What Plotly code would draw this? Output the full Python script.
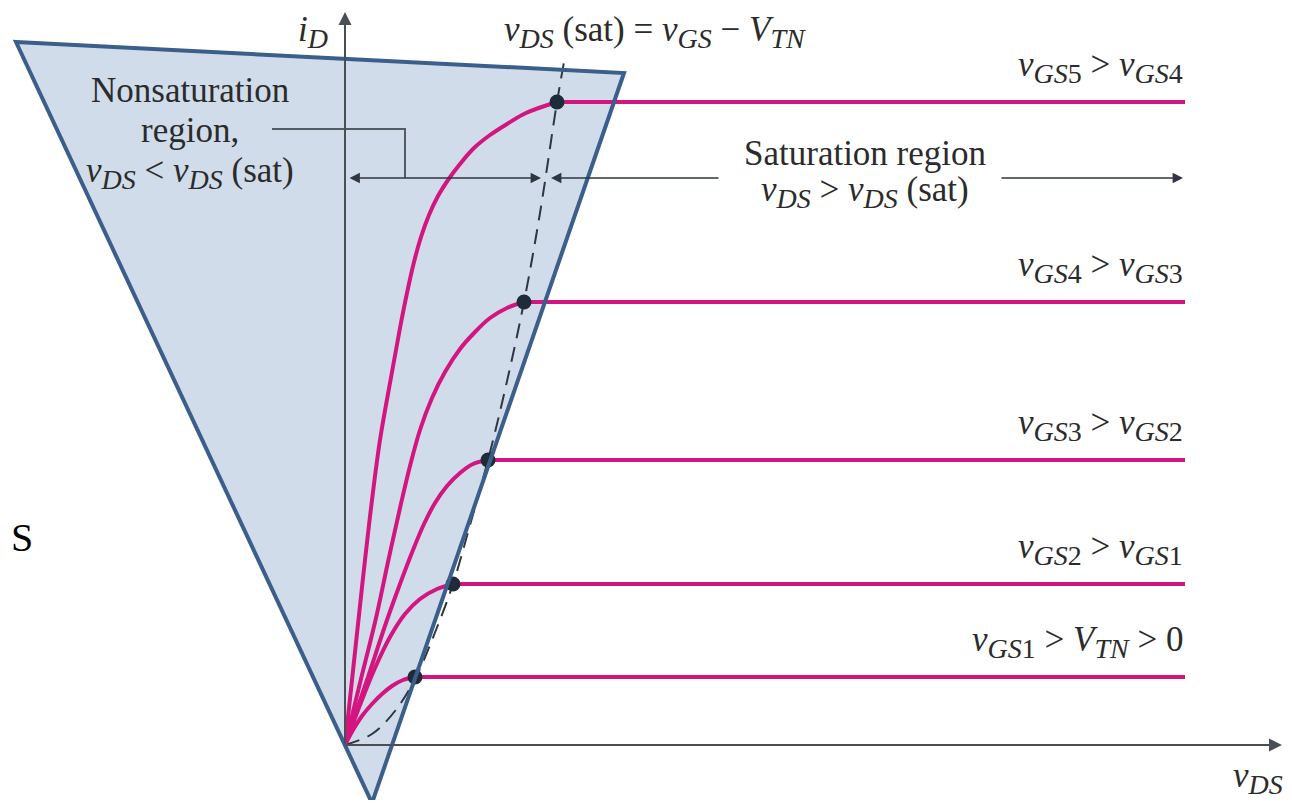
import plotly.graph_objects as go

# ---- data (arbitrary units: v_DS horizontal, i_D vertical) ----
curve1_vds = [0.0, 0.16, 0.34, 0.54, 0.74, 0.94, 1.16, 1.40]
curve1_id = [0.0, 0.30, 0.58, 0.82, 1.02, 1.18, 1.30, 1.36]

curve2_vds = [0.0, 0.30, 0.60, 0.90, 1.20, 1.50, 1.84, 2.16]
curve2_id = [0.0, 0.80, 1.54, 2.16, 2.62, 2.92, 3.12, 3.22]

curve3_vds = [0.0, 0.42, 0.84, 1.10, 1.36, 1.58, 1.80, 2.04, 2.30, 2.56, 2.86]
curve3_id = [0.0, 1.24, 2.50, 3.22, 3.90, 4.42, 4.84, 5.18, 5.44, 5.62, 5.70]

curve4_vds = [0.0, 0.30, 0.62, 0.86, 1.10, 1.30, 1.50, 1.74, 2.00, 2.30, 2.60, 2.90, 3.24, 3.58]
curve4_id = [0.0, 1.24, 2.54, 3.66, 4.74, 5.58, 6.30, 6.94, 7.46, 7.92, 8.26, 8.54, 8.74, 8.86]

curve5_vds = [0.0, 0.14, 0.28, 0.40, 0.54, 0.70, 0.94, 1.10, 1.24, 1.38, 1.52, 1.68, 1.86,
              2.06, 2.30, 2.58, 2.90, 3.24, 3.62, 4.24]
curve5_id = [0.0, 1.30, 2.60, 3.70, 4.90, 6.10, 7.46, 8.34, 9.04, 9.66, 10.16, 10.60, 10.98,
             11.30, 11.62, 11.94, 12.20, 12.42, 12.64, 12.86]

vds_sat = [1.40, 2.16, 2.86, 3.58, 4.24]
id_sat = [1.36, 3.22, 5.70, 8.86, 12.86]
vds_end = 16.8

parab_vds = [0.0, 0.54, 1.00, 1.42, 1.80, 2.16, 2.50, 2.86, 3.20, 3.58, 3.90, 4.24, 4.38]
parab_id = [0.0, 0.22, 0.68, 1.36, 2.25, 3.22, 4.40, 5.70, 7.10, 8.86, 10.64, 12.86, 13.66]

SUB = '<sub><span style="font-size:28px"><i>{}</i>{}</span></sub>'

def v(sym, sub, num=""):
    return "<i>{}</i>".format(sym) + SUB.format(sub, num)

curve_labels = [
    v("v", "GS", "1") + " > " + v("V", "TN") + " > 0",
    v("v", "GS", "2") + " > " + v("v", "GS", "1"),
    v("v", "GS", "3") + " > " + v("v", "GS", "2"),
    v("v", "GS", "4") + " > " + v("v", "GS", "3"),
    v("v", "GS", "5") + " > " + v("v", "GS", "4"),
]

# highlighted region (triangle) vertices
region_vds = [-6.58, 5.58, 0.54]
region_id = [14.06, 13.44, -1.16]

axis_x_end = 18.74
axis_y_end = 14.66
arrow_row_id = 11.34
nonsat_span = [0.06, 3.92]
sat_span_left = [7.5, 4.12]
sat_span_right = [13.1, 16.76]
leader_vds = [-1.46, 1.2, 1.2]
leader_id = [12.32, 12.32, 11.34]

MAG = "#D3167F"
DARK = "#2E3640"
TXT = "#2B2B2B"
FONT = "Liberation Serif"

curves = [
    (curve1_vds, curve1_id),
    (curve2_vds, curve2_id),
    (curve3_vds, curve3_id),
    (curve4_vds, curve4_id),
    (curve5_vds, curve5_id),
]

fig = go.Figure()

# dashed saturation locus
fig.add_trace(go.Scatter(x=parab_vds, y=parab_id, mode="lines",
                         line=dict(color=DARK, width=2, dash="15px,9px", shape="spline"),
                         hoverinfo="skip", showlegend=False))

for (vx, vy), vs, isat in zip(curves, vds_sat, id_sat):
    fig.add_trace(go.Scatter(x=vx, y=vy, mode="lines",
                             line=dict(color=MAG, width=4, shape="spline", smoothing=1.0),
                             hoverinfo="skip", showlegend=False))
    fig.add_trace(go.Scatter(x=[vs, vds_end], y=[isat, isat], mode="lines",
                             line=dict(color=MAG, width=4),
                             hoverinfo="skip", showlegend=False))

fig.add_trace(go.Scatter(x=vds_sat, y=id_sat, mode="markers",
                         marker=dict(color="#1F2B38", size=15),
                         hoverinfo="skip", showlegend=False))

# leader line
fig.add_trace(go.Scatter(x=leader_vds, y=leader_id, mode="lines",
                         line=dict(color="#555B63", width=2),
                         hoverinfo="skip", showlegend=False))

tri_path = "M {} {} L {} {} L {} {} Z".format(region_vds[0], region_id[0],
                                             region_vds[1], region_id[1],
                                             region_vds[2], region_id[2])
fig.add_shape(type="path", path=tri_path, xref="x", yref="y",
              fillcolor="#D0DCEA", line=dict(width=0), layer="below")
fig.add_shape(type="path", path=tri_path, xref="x", yref="y",
              fillcolor="rgba(0,0,0,0)", line=dict(color="#3B5E8B", width=4), layer="above")

anns = []
# axes
anns.append(dict(x=0, y=axis_y_end, ax=0, ay=0, xref="x", yref="y", axref="x", ayref="y",
                 text="", showarrow=True, arrowhead=2, arrowsize=1.3, arrowwidth=2, arrowcolor="#4A4F55"))
anns.append(dict(x=axis_x_end, y=0, ax=0, ay=0, xref="x", yref="y", axref="x", ayref="y",
                 text="", showarrow=True, arrowhead=2, arrowsize=1.3, arrowwidth=2, arrowcolor="#4A4F55"))
# region arrows
anns.append(dict(x=nonsat_span[1], y=arrow_row_id, ax=nonsat_span[0], ay=arrow_row_id,
                 xref="x", yref="y", axref="x", ayref="y", text="", showarrow=True,
                 arrowhead=2, startarrowhead=2, arrowside="end+start", arrowsize=1.3,
                 arrowwidth=1.6, arrowcolor="#2E3640"))
anns.append(dict(x=sat_span_left[1], y=arrow_row_id, ax=sat_span_left[0], ay=arrow_row_id,
                 xref="x", yref="y", axref="x", ayref="y", text="", showarrow=True,
                 arrowhead=2, arrowsize=1.3, arrowwidth=1.6, arrowcolor="#2E3640"))
anns.append(dict(x=sat_span_right[1], y=arrow_row_id, ax=sat_span_right[0], ay=arrow_row_id,
                 xref="x", yref="y", axref="x", ayref="y", text="", showarrow=True,
                 arrowhead=2, arrowsize=1.3, arrowwidth=1.6, arrowcolor="#2E3640"))

def txt(x, y, s, xanchor="center", yanchor="middle", size=35, color=TXT):
    anns.append(dict(x=x, y=y, xref="x", yref="y", text=s, showarrow=False,
                     xanchor=xanchor, yanchor=yanchor,
                     font=dict(family=FONT, size=size, color=color)))

for lab, isat in zip(curve_labels, id_sat):
    txt(vds_end, isat + 0.7, lab, xanchor="right")

txt(-0.64, 14.74, v("i", "D"), yanchor="top")
txt(6.2, 14.74, v("v", "DS") + " (sat) = " + v("v", "GS") + " − " + v("V", "TN"), yanchor="top")
txt(18.26, -0.66, v("v", "DS"))
txt(-3.1, 13.1, "Nonsaturation")
txt(-3.1, 12.3, "region,")
txt(-3.1, 11.44, v("v", "DS") + " < " + v("v", "DS") + " (sat)")
txt(10.4, 11.84, "Saturation region")
txt(10.4, 11.06, v("v", "DS") + " > " + v("v", "DS") + " (sat)")
txt(-6.73, 4.16, "S", xanchor="left", size=40, color="#000000")

fig.update_layout(
    width=1276, height=792,
    margin=dict(l=0, r=0, t=0, b=0),
    paper_bgcolor="white", plot_bgcolor="white",
    xaxis=dict(range=[-6.74, 18.78], visible=False, fixedrange=True),
    yaxis=dict(range=[-1.1, 14.74], visible=False, fixedrange=True),
    annotations=anns,
    showlegend=False,
)

fig.write_html("out.html")
